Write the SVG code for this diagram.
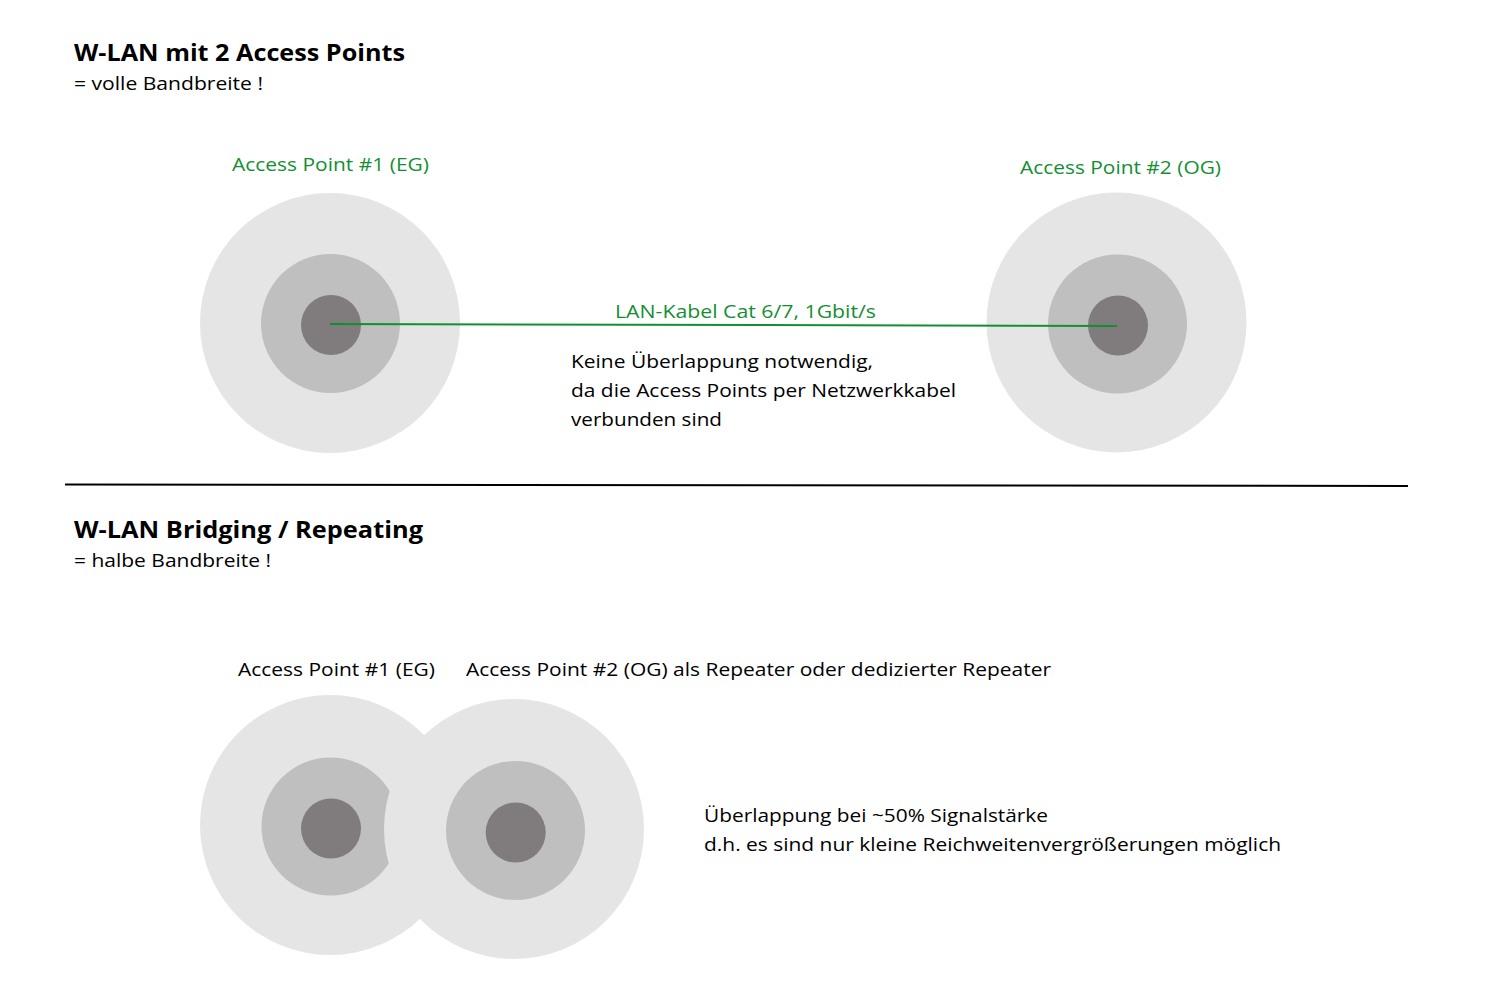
<svg xmlns="http://www.w3.org/2000/svg" width="1500" height="1000" viewBox="0 0 1500 1000">
<style>
text{font-family:"Open Sans","Liberation Sans",sans-serif;font-size:19px;fill:#000}
.t{font-size:23px;font-weight:bold}
.g{fill:#138f32}
.o{fill:#e6e5e6}
.m{fill:#bfbfbf}
.i{fill:#807c7d}
</style>
<rect width="1500" height="1000" fill="#fff"/>
<text class="t" x="74" y="61" textLength="331" lengthAdjust="spacingAndGlyphs">W-LAN mit 2 Access Points</text>
<text x="74" y="90" textLength="189" lengthAdjust="spacingAndGlyphs">= volle Bandbreite !</text>
<g id="ap1-top">
<circle class="o" cx="330" cy="323" r="130"/>
<circle class="m" cx="330.5" cy="323.5" r="69.5"/>
<circle class="i" cx="331" cy="325" r="30"/>
<text class="g" x="232" y="171" textLength="197" lengthAdjust="spacingAndGlyphs">Access Point #1 (EG)</text>
</g>
<g id="ap2-top">
<circle class="o" cx="1116.5" cy="322.5" r="130"/>
<circle class="m" cx="1117.5" cy="324" r="69.5"/>
<circle class="i" cx="1118" cy="325.5" r="30"/>
<text class="g" x="1020" y="174" textLength="201" lengthAdjust="spacingAndGlyphs">Access Point #2 (OG)</text>
</g>
<g id="connectors">
<line x1="330" y1="324" x2="1117" y2="326" stroke="#138f32" stroke-width="2"/>
<line x1="65" y1="484.5" x2="1408" y2="486" stroke="#000" stroke-width="2"/>
</g>
<text class="g" x="615" y="318" textLength="261" lengthAdjust="spacingAndGlyphs">LAN-Kabel Cat 6/7, 1Gbit/s</text>
<text x="571" y="368" textLength="302" lengthAdjust="spacingAndGlyphs">Keine Überlappung notwendig,</text>
<text x="571" y="397" textLength="385" lengthAdjust="spacingAndGlyphs">da die Access Points per Netzwerkkabel</text>
<text x="571" y="426" textLength="151" lengthAdjust="spacingAndGlyphs">verbunden sind</text>
<text class="t" x="74" y="538" textLength="349" lengthAdjust="spacingAndGlyphs">W-LAN Bridging / Repeating</text>
<text x="74" y="567" textLength="197" lengthAdjust="spacingAndGlyphs">= halbe Bandbreite !</text>
<g id="ap1-bottom">
<circle class="o" cx="330" cy="825" r="130"/>
<circle class="m" cx="330.5" cy="826.5" r="69"/>
<circle class="i" cx="331" cy="828.5" r="30"/>
<text x="238" y="676" textLength="197" lengthAdjust="spacingAndGlyphs">Access Point #1 (EG)</text>
</g>
<g id="ap2-bottom">
<circle class="o" cx="514" cy="829" r="130"/>
<circle class="m" cx="515.5" cy="830.5" r="69.5"/>
<circle class="i" cx="515.7" cy="832.5" r="30"/>
<text x="466" y="676" textLength="585" lengthAdjust="spacingAndGlyphs">Access Point #2 (OG) als Repeater oder dedizierter Repeater</text>
</g>
<text x="704" y="822" textLength="344" lengthAdjust="spacingAndGlyphs">Überlappung bei ~50% Signalstärke</text>
<text x="704" y="851" textLength="577" lengthAdjust="spacingAndGlyphs">d.h. es sind nur kleine Reichweitenvergrößerungen möglich</text>
</svg>
